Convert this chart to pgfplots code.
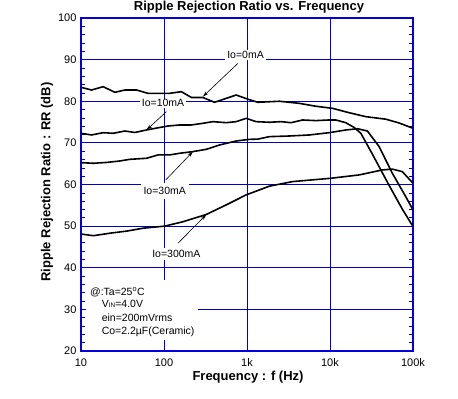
\documentclass[border=0pt]{standalone}
\usepackage{fontspec}
\setmainfont{Liberation Sans}
\usepackage{pgfplots}
\pgfplotsset{compat=1.18}
\usetikzlibrary{arrows.meta}
\definecolor{frameblue}{RGB}{0,0,225}
\definecolor{gridblue}{RGB}{0,0,200}
\begin{document}
\begin{tikzpicture}[x=1pt,y=1pt]
\useasboundingbox (0,0) rectangle (458,399);
\begin{axis}[
  at={(81pt,48pt)}, anchor=south west,
  scale only axis, width=332pt, height=333pt,
  xmode=log, log basis x=10,
  xmin=10, xmax=100000, ymin=20, ymax=100,
  xtick={10,100,1000,10000,100000},
  xticklabels={10,100,1k,10k,100k},
  ytick={20,30,40,50,60,70,80,90,100},
  minor y tick num=4,
  grid=major,
  major grid style={gridblue, line width=1pt},
  axis line style={frameblue, line width=1.8pt},
  tick style={gridblue, line width=0.6pt},
  major tick length=0pt,
  minor tick length=4pt,
  tick align=inside,
  /pgf/number format/assume math mode=true,
  tick label style={font=\fontsize{11}{13}\selectfont, text=black},
  xticklabel style={yshift=-4pt},
  yticklabel style={xshift=-1pt},
]
% white box behind conditions text
\fill[white] (axis cs:11.4,22.6) rectangle (axis cs:254,37.05);

\addplot[black, line width=1.6pt, line join=round] coordinates {
(10,83.35) (13.4,82.7) (18.5,83.5) (25.6,82.15) (33.8,82.7) (46.7,82.7) (64.3,81.9) (117,81.9) (162,82.3) (214,80.9) (294,80.9) (407,79.75) (562,80.7) (741,81.5) (1023,80.5) (1349,79.75) (2455,80.0) (4266,79.5) (6761,78.8) (10715,78.3) (16982,77.25) (26915,76.3) (46774,75.7) (67608,74.8) (100000,73.5)
};
\addplot[black, line width=1.6pt, line join=round] coordinates {
(10,72.3) (13.4,71.9) (18.5,72.45) (24.4,72.3) (33.8,72.85) (44.5,72.5) (61.6,73.1) (89,73.7) (111.6,74.05) (154,74.3) (213,74.3) (294,74.7) (388,75.1) (562,74.85) (741,75.1) (976,75.9) (1285,75.1) (1862,74.95) (2570,75.1) (3390,74.85) (4677,75.5) (6761,75.35) (9772,75.5) (11750,75.5) (15490,74.85) (19540,73.7) (23550,72.3) (32400,67.3) (51500,59.8) (74300,54.1) (100000,49.9)
};
\addplot[black, line width=1.6pt, line join=round] coordinates {
(10,65.25) (14.1,65.1) (20.3,65.3) (29.4,65.65) (38.8,66.05) (61.6,66.3) (84.8,67.1) (117,67.1) (154,67.5) (223,67.9) (323,68.45) (468,69.5) (741,70.45) (1068,70.85) (1349,70.9) (1862,71.5) (3236,71.65) (5636,71.9) (9772,72.45) (15560,73.1) (21440,73.4) (28250,72.85) (39080,69.1) (56360,62.7) (81650,57.1) (100000,53.9)
};
\addplot[black, line width=1.6pt, line join=round] coordinates {
(10,48.1) (14.1,47.7) (22.3,48.3) (35.4,48.8) (56,49.5) (102,50.0) (169,51.05) (323,52.8) (562,55.1) (976,57.5) (1862,59.6) (3548,60.7) (10260,61.5) (22440,62.3) (42760,63.5) (56360,63.7) (74300,63.1) (100000,60.3)
};

% annotations
\draw[black, line width=0.6pt, -{Stealth[length=6pt,width=3.5pt]}] (axis cs:776,89.1) -- (axis cs:294,81.1);
\draw[black, line width=0.6pt, -{Stealth[length=6pt,width=3.5pt]}] (axis cs:107,77.5) -- (axis cs:61.5,73.1);
\draw[black, line width=0.6pt, -{Stealth[length=6pt,width=3.5pt]}] (axis cs:105,61.1) -- (axis cs:223,67.9);
\draw[black, line width=0.6pt, -{Stealth[length=6pt,width=3.5pt]}] (axis cs:147.5,45.9) -- (axis cs:324,52.8);

\node[fill=white, inner xsep=2pt, inner ysep=1pt, font=\fontsize{10.5}{12}\selectfont] at (axis cs:960,91.1) {Io=0mA};
\node[fill=white, inner xsep=2pt, inner ysep=1pt, font=\fontsize{10.5}{12}\selectfont] at (axis cs:97.5,79.5) {Io=10mA};
\node[fill=white, inner xsep=3pt, inner ysep=4pt, font=\fontsize{10.5}{12}\selectfont] at (axis cs:102,58.4) {Io=30mA};
\node[fill=white, inner xsep=3pt, inner ysep=2pt, font=\fontsize{10.5}{12}\selectfont] at (axis cs:141,43.3) {Io=300mA};

\node[anchor=west, inner sep=0pt, font=\fontsize{10.5}{12}\selectfont] at (axis cs:12.8,34.1) {@:Ta=25\textsuperscript{o}C};
\node[anchor=west, inner sep=0pt, font=\fontsize{10.5}{12}\selectfont] at (axis cs:17.7,31.2) {V{\fontsize{6.5}{7}\selectfont IN}=4.0V};
\node[anchor=west, inner sep=0pt, font=\fontsize{10.5}{12}\selectfont] at (axis cs:17.7,27.9) {ein=200mVrms};
\node[anchor=west, inner sep=0pt, font=\fontsize{10.5}{12}\selectfont] at (axis cs:17.7,24.6) {Co=2.2µF(Ceramic)};
\end{axis}
\node[font=\bfseries\fontsize{13}{15}\selectfont] at (249,392) {Ripple Rejection Ratio vs. Frequency};
\node[font=\bfseries\fontsize{13}{15}\selectfont] at (248,22.3) {Frequency : f (Hz)};
\node[rotate=90, font=\bfseries\fontsize{13}{15}\selectfont] at (47,217) {Ripple Rejection Ratio : RR (dB)};
\end{tikzpicture}
\end{document}
